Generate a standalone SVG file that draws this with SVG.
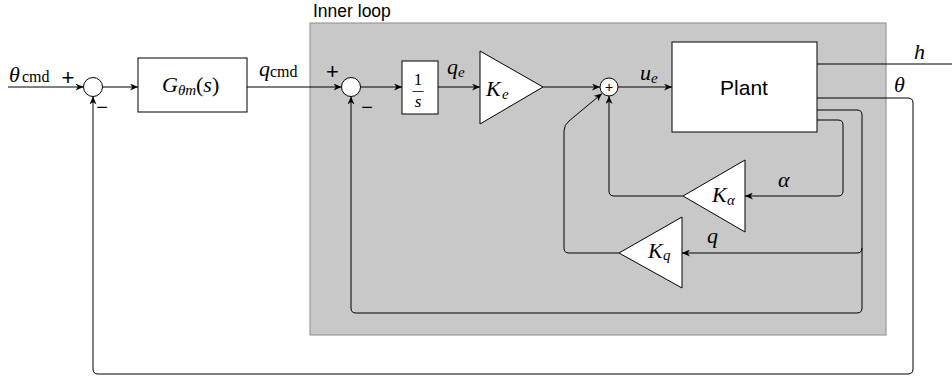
<svg xmlns="http://www.w3.org/2000/svg" width="952" height="376" viewBox="0 0 952 376">
<style>
.ln{fill:none;stroke:#000;stroke-width:1}
.blk{fill:#fff;stroke:#000;stroke-width:1}
.m{font-family:"Liberation Serif","Times New Roman",serif;font-style:italic;font-size:22px;fill:#000}
.s{font-style:italic;font-size:15px}
.u{font-style:normal}
.sub{font-style:normal;font-size:16px}
.frac{font-size:17px}
.sans{font-family:"Liberation Sans",Arial,sans-serif;fill:#000}
</style>
<defs>
<marker id="ar" viewBox="0 0 10 10" refX="10" refY="5" markerWidth="8" markerHeight="7" markerUnits="userSpaceOnUse" orient="auto" preserveAspectRatio="none">
<path d="M0,0 L10,5 L0,10 L3,5 z" fill="#000"/>
</marker>
</defs>
<rect width="952" height="376" fill="#fff"/>
<g id="inner-loop">
<rect x="310" y="23" width="576" height="312" fill="#c8c8c8" stroke="#8a8a8a" stroke-width="1"/>
<text class="sans" x="313" y="17" font-size="17.5">Inner loop</text>
</g>
<g id="connectors">
<path class="ln" d="M8 87 H83.5" marker-end="url(#ar)"/>
<path class="ln" d="M102.5 87 H138" marker-end="url(#ar)"/>
<path class="ln" d="M247 87 H341.5" marker-end="url(#ar)"/>
<path class="ln" d="M360.5 87 H402" marker-end="url(#ar)"/>
<path class="ln" d="M438 87 H480" marker-end="url(#ar)"/>
<path class="ln" d="M543 87 H600" marker-end="url(#ar)"/>
<path class="ln" d="M618 87 H672" marker-end="url(#ar)"/>
<path class="ln" d="M817 64 H952"/>
<path class="ln" d="M817 98 H908 Q913 98 913 103 V369 Q913 374 908 374 H98 Q93 374 93 369 V96.5" marker-end="url(#ar)"/>
<path class="ln" d="M817 110 H857 Q862 110 862 115 V308 Q862 313 857 313 H356 Q351 313 351 308 V96.5" marker-end="url(#ar)"/>
<path class="ln" d="M862 248 Q862 253 857 253 H682" marker-end="url(#ar)"/>
<path class="ln" d="M817 120 H838 Q843 120 843 125 V191 Q843 196 838 196 H745" marker-end="url(#ar)"/>
<path class="ln" d="M683 196 H614 Q609 196 609 191 V96" marker-end="url(#ar)"/>
<path class="ln" d="M619 253 H569 Q564 253 564 248 V131 Q564 125 569 121 L602 93.5" marker-end="url(#ar)"/>
</g>
<g id="sum1">
<circle class="blk" cx="93" cy="87" r="9.5"/>
<text class="sans" x="68" y="85" font-size="22" text-anchor="middle">+</text>
<text class="sans" x="102" y="114" font-size="20" text-anchor="middle">−</text>
</g>
<g id="label-theta-cmd">
<text class="m" x="9" y="82">θ</text>
<text class="m sub" x="22" y="82">cmd</text>
</g>
<g id="G">
<rect class="blk" x="138" y="58" width="109" height="54"/>
<text class="m" x="162" y="92">G</text>
<text class="m s" x="178" y="95">θm</text>
<text class="m" x="196" y="92"><tspan class="u">(</tspan>s<tspan class="u">)</tspan></text>
</g>
<g id="label-q-cmd">
<text class="m" x="259" y="76">q</text>
<text class="m sub" x="270" y="77">cmd</text>
</g>
<g id="sum2">
<circle class="blk" cx="351" cy="87" r="9.5"/>
<text class="sans" x="332.5" y="79" font-size="22" text-anchor="middle">+</text>
<text class="sans" x="367" y="114" font-size="20" text-anchor="middle">−</text>
</g>
<g id="integrator">
<rect class="blk" x="402" y="61" width="36" height="53"/>
<text class="m u frac" x="418" y="85" text-anchor="middle">1</text>
<line x1="412.5" y1="91.5" x2="423.5" y2="91.5" stroke="#000" stroke-width="0.8"/>
<text class="m frac" x="418" y="107" text-anchor="middle">s</text>
</g>
<g id="label-qe">
<text class="m" x="447" y="74">q</text>
<text class="m s" x="458" y="77">e</text>
</g>
<g id="Ke">
<polygon class="blk" points="480,51 480,124 543,87"/>
<text class="m" x="486" y="96">K</text>
<text class="m s" x="502" y="99">e</text>
</g>
<g id="sum3">
<circle class="blk" cx="609" cy="87" r="9"/>
<text class="sans" x="609" y="92" font-size="14" text-anchor="middle">+</text>
</g>
<g id="label-ue">
<text class="m" x="640" y="80">u</text>
<text class="m s" x="651" y="83">e</text>
</g>
<g id="plant">
<rect class="blk" x="672" y="42" width="145" height="90"/>
<text class="sans" x="744" y="95" font-size="21" text-anchor="middle">Plant</text>
</g>
<g id="Ka">
<polygon class="blk" points="745,160 745,232 683,196"/>
<text class="m" x="712" y="202">K</text>
<text class="m s" x="727" y="205">α</text>
</g>
<g id="Kq">
<polygon class="blk" points="682,217 682,288 619,253"/>
<text class="m" x="648" y="258">K</text>
<text class="m s" x="663" y="260">q</text>
</g>
<g id="labels">
<text class="m" x="778" y="187">α</text>
<text class="m" x="707" y="243">q</text>
<text class="m" x="914" y="59">h</text>
<text class="m" x="894" y="92">θ</text>
</g>
</svg>
